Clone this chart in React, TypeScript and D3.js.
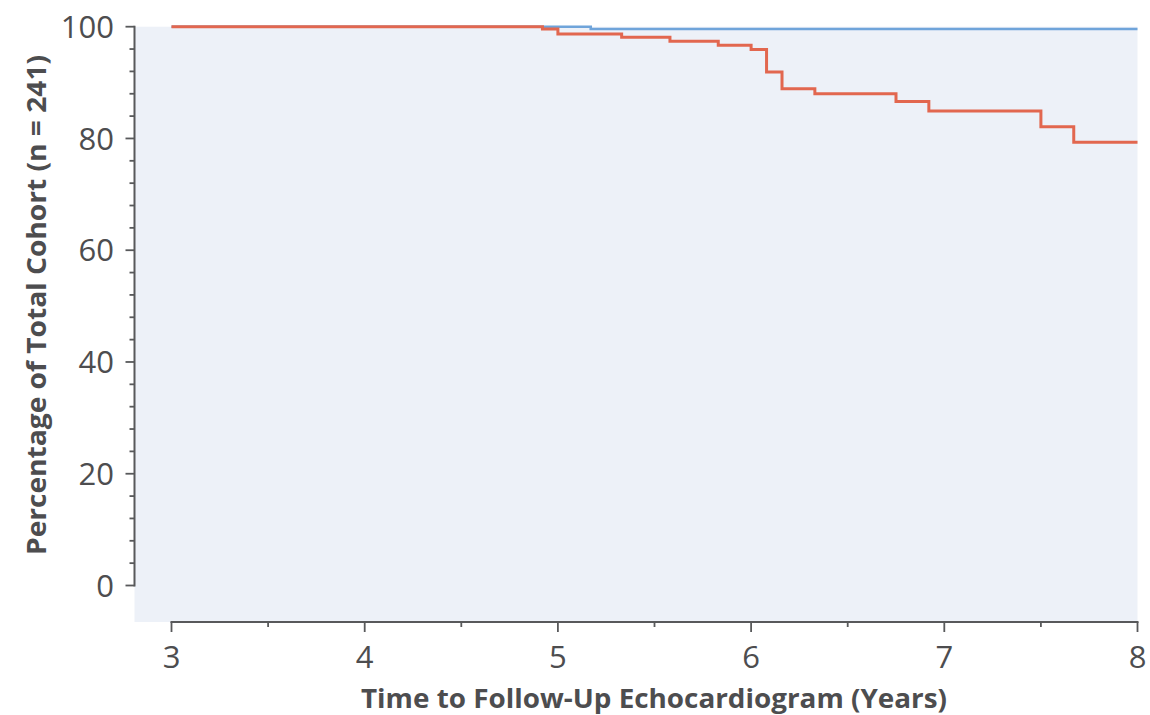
import React from "react";
import * as d3 from "d3";

const redTimes = [3, 4.92, 5.0, 5.33, 5.58, 5.83, 6.0, 6.08, 6.16, 6.33, 6.75, 6.92, 7.5, 7.67, 8];
const redValues = [100, 99.6, 98.7, 98.1, 97.4, 96.7, 95.9, 91.9, 88.9, 88.0, 86.6, 84.9, 82.1, 79.3, 79.3];
const blueTimes = [3, 5.17, 8];
const blueValues = [100, 99.6, 99.6];
const xTicks = [3, 4, 5, 6, 7, 8];
const yTicks = [0, 20, 40, 60, 80, 100];

const W = 1150;
const H = 715;
const axisColor = "#58595b";
const textColor = "#4d4d4f";
const font = "'Open Sans', sans-serif";

export default function App() {
  const x = d3.scaleLinear().domain([3, 8]).range([171.5, 1137.5]);
  const y = d3.scaleLinear().domain([0, 100]).range([585.5, 26.7]);
  const yAxisX = 134.5;
  const xAxisY = 622;

  const line = d3
    .line<[number, number]>()
    .x((d) => x(d[0]))
    .y((d) => y(d[1]))
    .curve(d3.curveStepAfter);

  const red: [number, number][] = redTimes.map((t, i) => [t, redValues[i]]);
  const blue: [number, number][] = blueTimes.map((t, i) => [t, blueValues[i]]);

  const yMinor = d3.range(0, 100.001, 4);
  const xMinor = d3.range(3, 8.001, 0.5);

  return (
    <svg
      width={W}
      height={H}
      style={{ position: "absolute", left: 0, top: 0, display: "block" }}
    >
      <rect x={0} y={0} width={W} height={H} fill="#ffffff" />
      <rect
        x={yAxisX}
        y={y(100)}
        width={x(8) - yAxisX}
        height={xAxisY - y(100)}
        fill="#edf1f8"
      />
      {/* Y axis */}
      <line x1={yAxisX} x2={yAxisX} y1={y(0) + 1} y2={y(100) - 1} stroke={axisColor} strokeWidth={2} />
      {yMinor.map((v) => (
        <line
          key={"ym" + v}
          x1={yAxisX}
          x2={yAxisX - (v % 20 === 0 ? 9 : 5)}
          y1={y(v)}
          y2={y(v)}
          stroke={axisColor}
          strokeWidth={1.8}
        />
      ))}
      {yTicks.map((v) => (
        <text
          key={"yl" + v}
          x={114}
          y={y(v)}
          dy="0.36em"
          textAnchor="end"
          fontFamily={font}
          fontWeight={500}
          fontSize={31}
          fill={textColor}
        >
          {v}
        </text>
      ))}
      {/* X axis */}
      <line x1={x(3) - 1} x2={x(8) + 1} y1={xAxisY} y2={xAxisY} stroke={axisColor} strokeWidth={2} />
      {xMinor.map((v) => (
        <line
          key={"xm" + v}
          x1={x(v)}
          x2={x(v)}
          y1={xAxisY}
          y2={xAxisY + (Number.isInteger(v) ? 10 : 5)}
          stroke={axisColor}
          strokeWidth={1.8}
        />
      ))}
      {xTicks.map((v) => (
        <text
          key={"xl" + v}
          x={x(v)}
          y={668}
          textAnchor="middle"
          fontFamily={font}
          fontWeight={500}
          fontSize={31}
          fill={textColor}
        >
          {v}
        </text>
      ))}
      {/* Lines */}
      <path d={line(blue) || ""} fill="none" stroke="#6fa4da" strokeWidth={2.6} />
      <path d={line(red) || ""} fill="none" stroke="#e2674f" strokeWidth={3} />
      {/* Titles */}
      <text
        x={654}
        y={708}
        textAnchor="middle"
        fontFamily={font}
        fontWeight="bold"
        fontSize={27}
        fill={textColor}
        textLength={586}
        lengthAdjust="spacingAndGlyphs"
      >
        Time to Follow-Up Echocardiogram (Years)
      </text>
      <text
        transform={`translate(46,305) rotate(-90)`}
        textAnchor="middle"
        fontFamily={font}
        fontWeight="bold"
        fontSize={27}
        fill={textColor}
        textLength={500}
        lengthAdjust="spacingAndGlyphs"
      >
        Percentage of Total Cohort (n = 241)
      </text>
    </svg>
  );
}
